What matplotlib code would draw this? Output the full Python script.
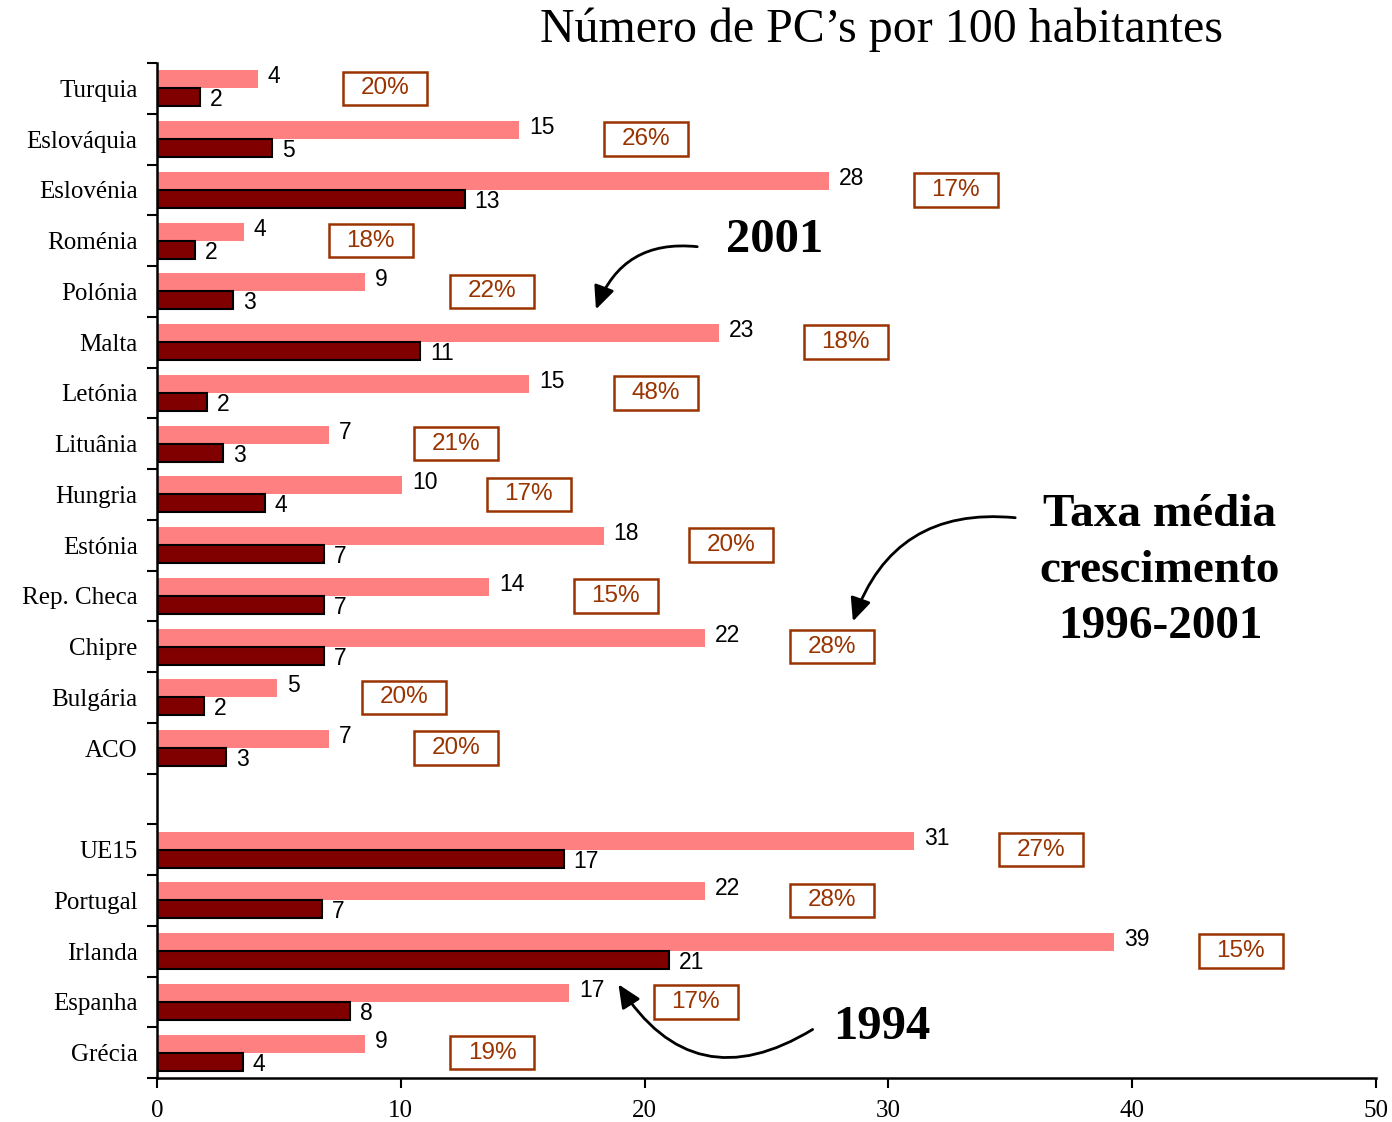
import matplotlib
matplotlib.use("Agg")
import matplotlib.pyplot as plt
import numpy as np

# dados
paises = ["Turquia", "Eslováquia", "Eslovénia", "Roménia", "Polónia", "Malta",
          "Letónia", "Lituânia", "Hungria", "Estónia", "Rep. Checa", "Chipre",
          "Bulgária", "ACO", "UE15", "Portugal", "Irlanda", "Espanha", "Grécia"]
pc_2001 = [4.14, 14.85, 27.56, 3.57, 8.55, 23.05, 15.26, 7.05, 10.05, 18.33,
           13.62, 22.48, 4.92, 7.05, 31.05, 22.48, 39.25, 16.9, 8.55]
pc_1994 = [1.76, 4.72, 12.63, 1.56, 3.12, 10.79, 2.05, 2.71, 4.43, 6.85,
           6.85, 6.85, 1.93, 2.83, 16.69, 6.77, 21.0, 7.92, 3.52]
taxa = ["20%", "26%", "17%", "18%", "22%", "18%", "48%", "21%", "17%", "20%",
        "15%", "28%", "20%", "20%", "27%", "28%", "15%", "17%", "19%"]

cor_2001 = "#FF8080"
cor_1994 = "#800000"
cor_taxa = "#993300"

# posições: 14 países, uma linha vazia, 5 países
pos = np.array(list(range(14)) + list(range(15, 20)), dtype=float)
h = 0.355

fig = plt.figure(figsize=(13.92, 11.22), dpi=100)
ax = fig.add_axes([157 / 1392, 1 - 1078 / 1122, (1376 - 157) / 1392, (1078 - 63) / 1122])

ax.barh(pos - h / 2, pc_2001, height=h, color=cor_2001, edgecolor="none")
ax.barh(pos + h / 2, pc_1994, height=h, color=cor_1994, edgecolor="black", linewidth=1.5)

for y, v2, v1, t in zip(pos, pc_2001, pc_1994, taxa):
    ax.text(v2 + 0.4, y - h / 2 - 0.05, f"{round(v2)}", ha="left", va="center",
            fontsize=16.5, family="Liberation Sans")
    ax.text(v1 + 0.4, y + h / 2 + 0.05, f"{round(v1)}", ha="left", va="center",
            fontsize=16.5, family="Liberation Sans")
    cx = v2 + 5.2
    ax.add_patch(plt.Rectangle((cx - 1.72, y - 0.33), 3.44, 0.66, facecolor="white",
                               edgecolor=cor_taxa, linewidth=1.8, zorder=3))
    ax.text(cx, y, t, ha="center", va="center", color=cor_taxa, fontsize=17.5,
            family="Liberation Sans", zorder=4)

ax.set_xlim(0, 50)
ax.set_ylim(19.5, -0.5)
ax.set_xticks(range(0, 51, 10))
ax.set_xticklabels([str(x) for x in range(0, 51, 10)], family="Liberation Serif", fontsize=18)
ax.set_yticks(np.arange(-0.5, 20, 1.0))
ax.set_yticklabels([])
ax.set_yticks(pos, minor=True)
ax.set_yticklabels(paises, minor=True, family="Liberation Serif", fontsize=18)
ax.tick_params(axis="y", which="major", length=7, width=1.5, direction="out")
ax.tick_params(axis="y", which="minor", length=0, pad=14)
ax.tick_params(axis="x", length=7, width=1.5, direction="out", pad=9)
for s in ["top", "right"]:
    ax.spines[s].set_visible(False)
ax.spines["left"].set_linewidth(1.8)
ax.spines["bottom"].set_linewidth(1.8)

# título e anotações
fig.text(882 / 1392, 1 - 30 / 1122, "Número de PC’s por 100 habitantes", ha="center", va="center",
         family="Liberation Serif", fontsize=34.5)
fig.text(775 / 1392, 1 - 240 / 1122, "2001", ha="center", va="center",
         family="Liberation Serif", fontweight="bold", fontsize=35)
fig.text(1160 / 1392, 1 - 571 / 1122, "Taxa média\ncrescimento\n1996-2001", ha="center", va="center",
         family="Liberation Serif", fontweight="bold", fontsize=34, linespacing=1.45)
fig.text(882 / 1392, 1 - 1027 / 1122, "1994", ha="center", va="center",
         family="Liberation Serif", fontweight="bold", fontsize=35)

seta = dict(arrowstyle="-|>,head_length=1.0,head_width=0.45", color="black", lw=2)
fig.patches.append(matplotlib.patches.FancyArrowPatch(
    (700 / 1392, 1 - 247 / 1122), (595 / 1392, 1 - 312 / 1122), transform=fig.transFigure,
    connectionstyle="arc3,rad=0.4", mutation_scale=14, **seta))
fig.patches.append(matplotlib.patches.FancyArrowPatch(
    (1018 / 1392, 1 - 518 / 1122), (852 / 1392, 1 - 624 / 1122), transform=fig.transFigure,
    connectionstyle="arc3,rad=0.4", mutation_scale=14, **seta))
fig.patches.append(matplotlib.patches.FancyArrowPatch(
    (815 / 1392, 1 - 1028 / 1122), (617 / 1392, 1 - 982 / 1122), transform=fig.transFigure,
    connectionstyle="arc3,rad=-0.5", mutation_scale=14, **seta))

fig.savefig("out.png", dpi=100)
